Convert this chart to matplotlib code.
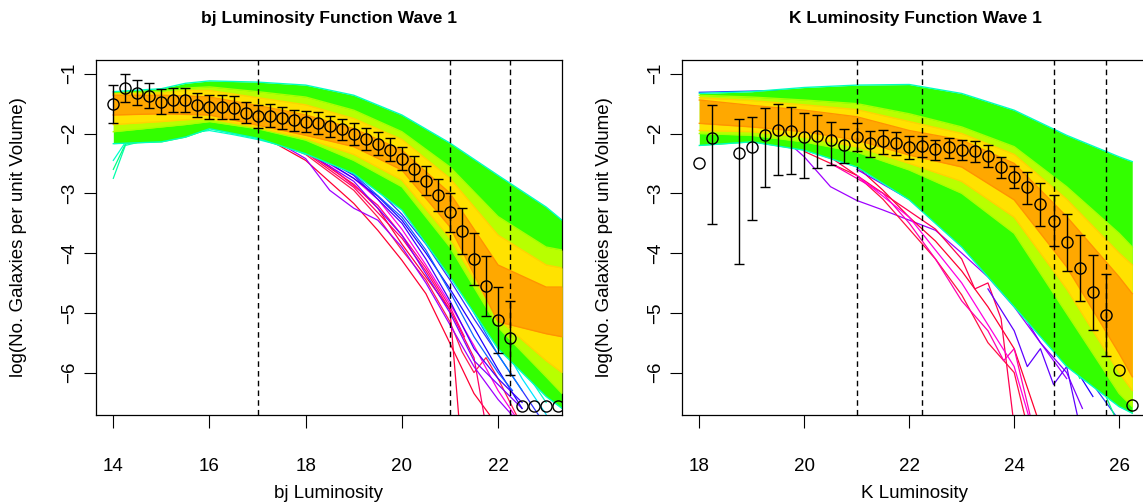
import numpy as np
import matplotlib
matplotlib.use("Agg")
import matplotlib.pyplot as plt

plt.rcParams["font.family"] = ["Liberation Sans", "DejaVu Sans"]

# ─────────────────────────────────────────────
#  bj panel data
# ─────────────────────────────────────────────
bj_x = [14.0, 14.25, 14.5, 14.75, 15.0, 15.25, 15.5, 15.75, 16.0, 16.25,
        16.5, 16.75, 17.0, 17.25, 17.5, 17.75, 18.0, 18.25, 18.5, 18.75,
        19.0, 19.25, 19.5, 19.75, 20.0, 20.25, 20.5, 20.75, 21.0, 21.25,
        21.5, 21.75, 22.0, 22.25, 22.5, 22.75, 23.0, 23.25]
bj_y = [-1.50, -1.24, -1.32, -1.37, -1.47, -1.44, -1.44, -1.53, -1.55, -1.55,
        -1.57, -1.65, -1.71, -1.70, -1.74, -1.78, -1.80, -1.82, -1.88, -1.93,
        -2.01, -2.09, -2.17, -2.27, -2.42, -2.59, -2.79, -3.03, -3.32, -3.63,
        -4.10, -4.55, -5.12, -5.42, -6.56, -6.56, -6.56, -6.56]
nan = np.nan
bj_err = [0.32, 0.23, 0.21, 0.21, 0.21, 0.20, 0.20, 0.20, 0.20, 0.20,
          0.19, 0.18, 0.19, 0.19, 0.18, 0.17, 0.18, 0.18, 0.18, 0.18,
          0.18, 0.19, 0.19, 0.19, 0.19, 0.21, 0.24, 0.27, 0.33, 0.39,
          0.44, 0.50, 0.55, 0.62, nan, nan, nan, nan]
bj_cuts = [17.0, 21.0, 22.25]

# envelopes of the model-run bundle (green / yellow-green / yellow / orange)
bj_grid = [14, 15, 15.5, 16, 17, 18, 19, 20, 21, 22, 23, 23.33]
bj_green_top = [-1.30, -1.25, -1.16, -1.12, -1.14, -1.19, -1.36, -1.69, -2.16, -2.70, -3.23, -3.45]
bj_green_bot = [-2.17, -2.14, -2.06, -1.92, -2.08, -2.34, -2.67, -3.28, -4.40, -5.60, -6.40, -6.60]
bj_yel_top = [-1.33, -1.29, -1.24, -1.22, -1.30, -1.39, -1.61, -1.97, -2.56, -3.39, -3.90, -3.95]
bj_yel_bot = [-1.97, -1.89, -1.85, -1.80, -1.92, -2.11, -2.45, -2.89, -3.90, -5.24, -6.07, -6.35]
bj_gold_top = [-1.34, -1.32, -1.28, -1.28, -1.40, -1.52, -1.75, -2.10, -2.75, -3.70, -4.20, -4.25]
bj_gold_bot = [-1.85, -1.80, -1.77, -1.75, -1.90, -2.08, -2.35, -2.78, -3.75, -5.10, -5.80, -6.00]
bj_org_top = [-1.36, -1.36, -1.37, -1.39, -1.53, -1.69, -1.92, -2.28, -3.00, -4.20, -4.57, -4.57]
bj_org_bot = [-1.69, -1.67, -1.68, -1.69, -1.86, -2.03, -2.22, -2.61, -3.56, -5.15, -5.35, -5.40]

# individual runs that fall away from the bundle
bj_strays = [
    ("#ff0033", [17, 18, 19, 19.5, 20, 20.5, 21, 21.5, 22],
     [-2.0, -2.45, -3.17, -3.62, -4.12, -4.68, -5.51, -6.35, -6.9]),
    ("#ff1a4d", [17, 18, 19, 19.5, 20, 20.5, 21, 21.25, 21.5, 21.75, 22, 22.5],
     [-2.0, -2.35, -2.95, -3.40, -3.95, -4.45, -5.15, -5.65, -6.0, -5.75, -6.1, -6.9]),
    ("#ff0040", [17, 18, 19, 19.5, 20, 20.5, 21, 21.2],
     [-2.0, -2.30, -2.85, -3.25, -3.85, -4.40, -4.95, -6.9]),
    ("#ff0066", [17.5, 18, 19, 20, 20.5, 21, 21.5, 21.75],
     [-2.1, -2.32, -2.90, -3.75, -4.30, -4.95, -5.75, -6.9]),
    ("#ff0080", [17.5, 18.5, 19.5, 20, 20.5, 21, 21.3],
     [-2.1, -2.55, -3.20, -3.70, -4.25, -4.90, -5.4]),
    ("#ff00dd", [17.5, 18, 19, 19.5, 20, 20.5, 21, 21.5, 22, 22.5],
     [-2.0, -2.28, -2.75, -3.10, -3.60, -4.20, -4.85, -5.55, -6.30, -6.9]),
    ("#a000ff", [17, 18, 18.5, 19, 19.5, 20, 20.5, 21, 21.5, 22, 22.5],
     [-1.95, -2.42, -2.95, -3.25, -3.45, -3.90, -4.50, -5.20, -5.90, -6.45, -6.9]),
    ("#8000ff", [18, 19, 20, 21, 21.5, 22, 22.5],
     [-2.30, -2.80, -3.70, -5.00, -5.80, -6.20, -6.60]),
    ("#2000ff", [17.5, 18, 19, 19.5, 20, 20.5, 21, 21.5, 22, 22.5],
     [-2.05, -2.25, -2.75, -3.05, -3.45, -4.00, -4.60, -5.25, -5.95, -6.6]),
    ("#3030ff", [17.5, 18, 19, 19.5, 20, 20.5, 21, 21.5, 22, 22.5, 23],
     [-2.05, -2.20, -2.65, -2.95, -3.35, -3.85, -4.45, -5.10, -5.70, -6.30, -6.9]),
    ("#4000ff", [18, 19, 20, 20.5, 21, 21.5, 22, 22.5],
     [-2.25, -2.70, -3.50, -4.10, -4.80, -5.60, -6.10, -6.5]),
    ("#1060ff", [18, 19, 20, 20.5, 21, 21.5, 22, 22.3],
     [-2.22, -2.68, -3.40, -3.95, -4.65, -5.40, -6.0, -6.3]),
    ("#0080ff", [18, 19, 20, 21, 21.5, 22, 22.5],
     [-2.20, -2.60, -3.25, -4.30, -5.00, -5.70, -6.3]),
    ("#00c0ff", [18, 19, 20, 21, 21.5, 22],
     [-2.18, -2.55, -3.20, -4.20, -4.90, -5.6]),
    ("#00e5ff", [18, 19, 20, 21, 22, 22.5, 23],
     [-2.15, -2.50, -3.15, -4.10, -5.40, -6.1, -6.7]),
    ("#00ffc8", [18, 19, 20, 21, 22, 22.5, 23],
     [-2.10, -2.45, -3.05, -3.95, -5.20, -5.9, -6.5]),
    ("#00ff66", [18, 19, 20, 21, 22, 22.5, 23, 23.33],
     [-2.10, -2.40, -2.95, -3.80, -5.00, -5.6, -6.2, -6.5]),
    ("#00ffaa", [14, 14.25, 14.5], [-2.75, -2.20, -2.15]),
    ("#00ff80", [14, 14.25, 14.5], [-2.60, -2.18, -2.12]),
    ("#00ffcc", [14, 14.25, 14.5], [-2.45, -2.15, -2.10]),
    ("#00ffcc", [15.5, 16, 16.5, 17, 17.5, 18], [-2.0, -1.95, -2.02, -2.10, -2.20, -2.35]),
    ("#a000ff", [14, 14.5, 15, 15.3], [-1.31, -1.31, -1.28, -1.27]),
]

# ─────────────────────────────────────────────
#  K panel data
# ─────────────────────────────────────────────
k_x = [18.0, 18.25, 18.75, 19.0, 19.25, 19.5, 19.75, 20.0, 20.25, 20.5,
       20.75, 21.0, 21.25, 21.5, 21.75, 22.0, 22.25, 22.5, 22.75, 23.0,
       23.25, 23.5, 23.75, 24.0, 24.25, 24.5, 24.75, 25.0, 25.25, 25.5,
       25.75, 26.0, 26.25]
k_y = [-2.49, -2.07, -2.32, -2.22, -2.03, -1.94, -1.96, -2.06, -2.05, -2.11,
       -2.19, -2.06, -2.16, -2.13, -2.16, -2.23, -2.21, -2.26, -2.23, -2.28,
       -2.30, -2.38, -2.56, -2.73, -2.90, -3.18, -3.46, -3.82, -4.25, -4.65,
       -5.03, -5.96, -6.54]
k_hi = [nan, -1.53, -1.76, -1.72, -1.58, -1.51, -1.55, -1.65, -1.69, -1.81,
        -1.93, -1.83, -1.95, -1.94, -1.98, -2.05, -2.05, -2.11, -2.07, -2.11,
        -2.12, -2.20, -2.39, -2.54, -2.64, -2.83, -3.03, -3.34, -3.69, -4.03,
        -4.35, nan, nan]
k_lo = [nan, -3.52, -4.19, -3.44, -2.89, -2.70, -2.67, -2.75, -2.58, -2.52,
        -2.50, -2.29, -2.39, -2.34, -2.36, -2.42, -2.40, -2.44, -2.41, -2.45,
        -2.48, -2.56, -2.74, -2.92, -3.18, -3.54, -3.88, -4.30, -4.81, -5.29,
        -5.72, nan, nan]
k_cuts = [21.0, 22.25, 24.75, 25.75]

k_grid = [18, 19, 20, 21, 22, 23, 24, 25, 26, 26.25]
k_green_top = [-1.33, -1.30, -1.23, -1.19, -1.18, -1.33, -1.61, -2.03, -2.39, -2.47]
k_green_bot = [-2.20, -2.14, -2.28, -2.56, -3.11, -3.90, -4.90, -5.90, -6.57, -6.68]
k_yel_top = [-1.36, -1.39, -1.44, -1.50, -1.67, -1.89, -2.22, -2.89, -3.67, -3.90]
k_yel_bot = [-2.00, -2.03, -2.14, -2.31, -2.61, -3.00, -3.67, -5.01, -6.35, -6.57]
k_gold_top = [-1.40, -1.45, -1.52, -1.60, -1.80, -2.00, -2.35, -3.10, -4.00, -4.20]
k_gold_bot = [-1.95, -1.97, -2.06, -2.22, -2.50, -2.80, -3.40, -4.60, -6.00, -6.30]
k_org_top = [-1.44, -1.53, -1.61, -1.72, -1.95, -2.11, -2.50, -3.39, -4.40, -4.68]
k_org_bot = [-1.83, -1.89, -1.97, -2.11, -2.36, -2.56, -3.11, -4.23, -5.68, -6.07]

k_strays = [
    ("#a000ff", [19.5, 20, 20.5, 21, 21.5, 22, 22.5, 23, 23.5, 24, 24.5, 25],
     [-2.0, -2.39, -2.89, -3.12, -3.28, -3.45, -3.62, -4.0, -4.4, -4.9, -5.5, -6.1]),
    ("#ff0030", [20, 21, 21.5, 22, 22.5, 23, 23.5, 24, 24.5],
     [-2.25, -2.55, -2.95, -3.40, -3.80, -4.30, -4.90, -5.60, -6.9]),
    ("#ff1040", [20, 21, 21.5, 22, 22.5, 23, 23.5, 24, 24.25],
     [-2.30, -2.70, -3.10, -3.60, -4.10, -4.70, -5.50, -6.00, -6.9]),
    ("#ff0050", [20.5, 21.5, 22, 22.5, 23, 23.25, 23.5, 23.75, 24],
     [-2.4, -3.0, -3.3, -3.6, -4.1, -4.6, -4.5, -5.1, -6.9]),
    ("#ff00b0", [20.5, 21.5, 22, 22.5, 23, 23.5, 23.8, 24, 24.3],
     [-2.5, -3.0, -3.5, -4.1, -4.8, -5.3, -5.8, -5.6, -6.7]),
    ("#ff00e0", [21, 22, 23, 23.5, 24, 24.3],
     [-2.7, -3.4, -4.5, -5.2, -5.9, -6.8]),
    ("#2000ff", [21, 22, 23, 24, 24.5, 25, 25.5],
     [-2.50, -2.90, -3.60, -4.40, -5.00, -5.70, -6.4]),
    ("#3040ff", [21, 22, 23, 24, 24.5, 25, 25.5, 26],
     [-2.45, -2.80, -3.40, -4.20, -4.80, -5.50, -6.2, -6.8]),
    ("#4000ff", [21.5, 22.5, 23.5, 24, 24.5, 25, 25.5, 26],
     [-2.6, -3.1, -3.8, -4.3, -4.9, -5.3, -5.9, -6.4]),
    ("#8000ff", [21, 22, 23, 24, 24.5, 25, 25.3],
     [-2.6, -3.1, -3.8, -4.8, -5.5, -6.0, -6.6]),
    ("#00e0ff", [21, 22, 23, 24, 25, 25.5, 26],
     [-2.4, -2.75, -3.25, -3.95, -4.9, -5.6, -6.3]),
    ("#00ffd0", [21.5, 22.5, 23.5, 24.5, 25, 25.5, 26, 26.25],
     [-2.5, -2.9, -3.5, -4.3, -4.9, -5.5, -6.1, -6.5]),
    ("#0090ff", [20.5, 21.5, 22.5, 23.5, 24.5, 25, 25.5],
     [-2.35, -2.65, -3.2, -3.9, -4.8, -5.4, -6.0]),
    ("#6000ff", [23.5, 24, 24.25, 24.5, 24.75, 25, 25.25],
     [-4.6, -5.3, -5.9, -5.6, -6.2, -5.9, -6.9]),
    ("#00ff80", [23, 24, 24.5, 25, 25.25, 25.5, 25.75, 26],
     [-3.3, -4.3, -4.9, -5.6, -6.1, -5.8, -6.4, -6.9]),
    ("#2040ff", [18, 18.5, 19, 19.5, 20], [-1.31, -1.30, -1.29, -1.28, -1.27]),
]

W, H = 1143, 504


def draw_panel(ax, grid, bands, strays, x, y, yerr, cuts,
               xlim, xticks, title, xlabel):
    # stray runs first, the dense bundle covers their upper parts
    for col, sx, sy in strays:
        ax.plot(sx, sy, color=col, lw=0.9, zorder=1)

    # bands: (top, bottom, fill colour, edge colour), outermost first
    for z, (top, bot, fc, ec) in enumerate(bands):
        ax.fill_between(grid, bot, top, color=fc, lw=0, zorder=2 + z)
        ax.plot(grid, top, color=ec, lw=1, zorder=2 + z)
        ax.plot(grid, bot, color=ec, lw=1, zorder=2 + z)

    for c in cuts:
        ax.axvline(c, color="black", lw=1, dashes=(4, 3), zorder=8)

    ax.errorbar(x, y, yerr=yerr, fmt="o", mfc="none", mec="black", mew=1,
                ms=8, ecolor="black", elinewidth=1, capsize=3.5, capthick=1,
                zorder=9)

    ax.set_xlim(*xlim)
    ax.set_ylim(-6.71, -0.77)
    ax.set_xticks(xticks)
    ax.set_yticks([-1, -2, -3, -4, -5, -6])
    ax.tick_params(direction="out", length=9, width=0.8, labelsize=13.5)
    ax.tick_params(axis="x", pad=22)
    ax.tick_params(axis="y", pad=4)
    for lab in ax.get_yticklabels():
        lab.set_rotation(90)
        lab.set_va("center")
    for s in ax.spines.values():
        s.set_linewidth(0.9)

    ax.text(0.5, 1.118, title, transform=ax.transAxes, ha="center",
            va="center", fontsize=12.5, fontweight="bold")
    ax.set_xlabel(xlabel, fontsize=13.5)
    ax.xaxis.set_label_coords(0.5, -0.2225)
    ax.xaxis.label.set_va("center")
    ax.set_ylabel("log(No. Galaxies per unit Volume)", fontsize=13.5)
    ax.yaxis.set_label_coords(-0.167, 0.5)
    ax.yaxis.label.set_va("center")


fig = plt.figure(figsize=(W / 100, H / 100), dpi=100)
ax1 = fig.add_axes([96 / W, 1 - 415 / H, 466 / W, 355 / H])
ax2 = fig.add_axes([682 / W, 1 - 415 / H, 466 / W, 355 / H])

bj_bands = [
    (bj_green_top, bj_green_bot, "#33ff00", "#00ffc0"),
    (bj_yel_top, bj_yel_bot, "#b8ff00", "#a8ff00"),
    (bj_gold_top, bj_gold_bot, "#ffe200", "#ffd400"),
    (bj_org_top, bj_org_bot, "#ffa800", "#ff9400"),
]
draw_panel(ax1, bj_grid, bj_bands, bj_strays, bj_x, bj_y, np.array(bj_err),
           bj_cuts, (13.64, 23.33), [14, 16, 18, 20, 22],
           "bj Luminosity Function Wave 1", "bj Luminosity")

k_bands = [
    (k_green_top, k_green_bot, "#33ff00", "#00ffc0"),
    (k_yel_top, k_yel_bot, "#b8ff00", "#a8ff00"),
    (k_gold_top, k_gold_bot, "#ffe200", "#ffd400"),
    (k_org_top, k_org_bot, "#ffa800", "#ff9400"),
]
ky = np.array(k_y)
k_yerr = np.vstack([ky - np.array(k_lo), np.array(k_hi) - ky])
draw_panel(ax2, k_grid, k_bands, k_strays, k_x, k_y, k_yerr, k_cuts,
           (17.67, 26.55), [18, 20, 22, 24, 26],
           "K Luminosity Function Wave 1", "K Luminosity")

fig.savefig("out.png", dpi=100)
